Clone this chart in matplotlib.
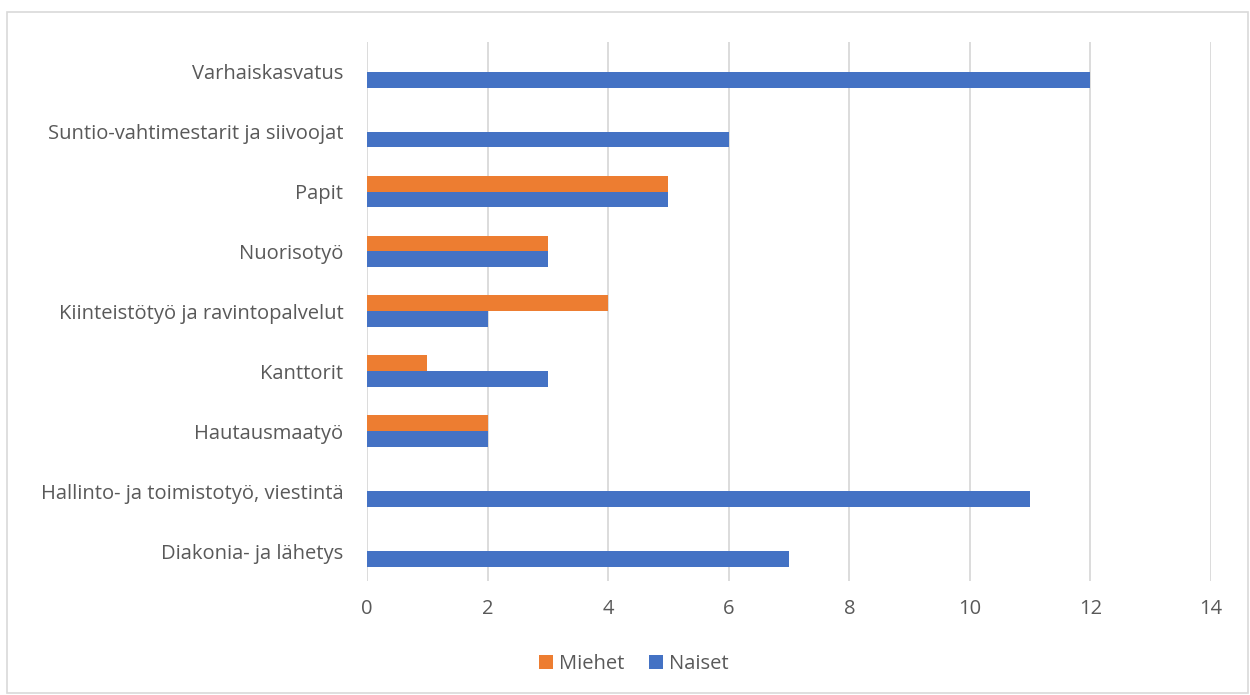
import numpy as np
import matplotlib.pyplot as plt
from matplotlib.patches import Rectangle

categories = ["Diakonia- ja lähetys", "Hallinto- ja toimistotyö, viestintä", "Hautausmaatyö",
              "Kanttorit", "Kiinteistötyö ja ravintopalvelut", "Nuorisotyö", "Papit",
              "Suntio-vahtimestarit ja siivoojat", "Varhaiskasvatus"]
naiset = [7, 11, 2, 3, 2, 3, 5, 6, 12]
miehet = [0, 0, 2, 1, 4, 3, 5, 0, 0]
xticks = [0, 2, 4, 6, 8, 10, 12, 14]

plt.rcParams['font.family'] = ['Open Sans', 'DejaVu Sans']
text_col = '#595959'

fig = plt.figure(figsize=(12.5, 6.95), dpi=100)
ax = fig.add_axes([0.2936, 0.164, 0.6752, 0.776])

y = np.arange(len(categories))
h = 0.265
ax.barh(y - h / 2, naiset, height=h, color='#4472C4', label='Naiset', zorder=3)
ax.barh(y + h / 2, miehet, height=h, color='#ED7D31', label='Miehet', zorder=3)

ax.set_xlim(0, 14)
ax.set_ylim(-0.5, len(categories) - 0.5)
ax.set_xticks(xticks)
ax.set_yticks(y)
ax.set_yticklabels(categories)
ax.tick_params(axis='both', length=0, labelsize=14.5, labelcolor=text_col)
ax.tick_params(axis='x', pad=13)
ax.tick_params(axis='y', pad=17)
ax.grid(axis='x', color='#D9D9D9', linewidth=1.3, zorder=0)
for s in ax.spines.values():
    s.set_visible(False)

handles, labels = ax.get_legend_handles_labels()
leg = fig.legend(handles[::-1], labels[::-1], loc='center', bbox_to_anchor=(0.507, 0.045), ncol=2,
                 frameon=False, fontsize=14.5, handlelength=0.7, handleheight=0.7,
                 handletextpad=0.3, columnspacing=1.2, labelcolor=text_col)

fig.patches.append(Rectangle((0.0056, 0.003), 0.9928, 0.98, transform=fig.transFigure,
                             fill=False, edgecolor='#D9D9D9', linewidth=1.2))

fig.savefig('out.png', dpi=100)
